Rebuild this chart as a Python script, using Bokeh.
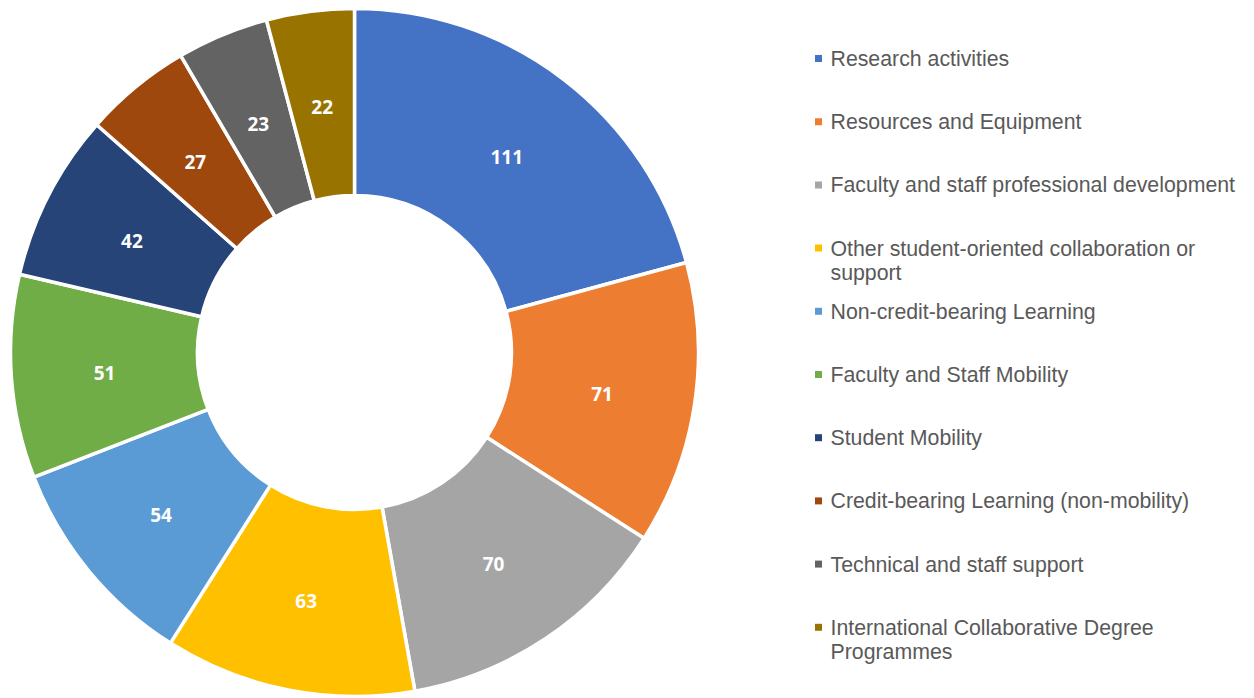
import math
from bokeh.plotting import figure
from bokeh.models import Range1d, ColumnDataSource
from bokeh.core.properties import value
from bokeh.embed import file_html
from bokeh.resources import INLINE

categories = [
    "Research activities",
    "Resources and Equipment",
    "Faculty and staff professional development",
    "Other student-oriented collaboration or\nsupport",
    "Non-credit-bearing Learning",
    "Faculty and Staff Mobility",
    "Student Mobility",
    "Credit-bearing Learning (non-mobility)",
    "Technical and staff support",
    "International Collaborative Degree\nProgrammes",
]
counts = [111, 71, 70, 63, 54, 51, 42, 27, 23, 22]
colors = ["#4472C4", "#ED7D31", "#A5A5A5", "#FFC000", "#5B9BD5",
          "#70AD47", "#264478", "#9E480E", "#636363", "#997300"]

W, H = 1254, 698
cx, cy = 354, H - 352
r_out, r_in = 344, 157

total = sum(counts)
starts, ends, lx, ly = [], [], [], []
acc = 0.0
for c in counts:
    a0 = math.pi / 2 - 2 * math.pi * acc / total
    a1 = math.pi / 2 - 2 * math.pi * (acc + c) / total
    starts.append(a0)
    ends.append(a1)
    mid = (a0 + a1) / 2
    rm = (r_in + r_out) / 2
    lx.append(cx + rm * math.cos(mid))
    ly.append(cy + rm * math.sin(mid) - 3)
    acc += c

src = ColumnDataSource(dict(start=starts, end=ends, color=colors,
                            lx=lx, ly=ly, lab=[str(c) for c in counts]))

p = figure(width=W, height=H, output_backend="svg", toolbar_location=None,
           x_range=Range1d(0, W), y_range=Range1d(0, H), min_border=0)
p.axis.visible = False
p.grid.visible = False
p.outline_line_color = None
p.background_fill_color = "white"
p.border_fill_color = "white"

p.annular_wedge(x=cx, y=cy, inner_radius=r_in, outer_radius=r_out,
                start_angle="start", end_angle="end", direction="clock",
                fill_color="color", line_color="white", line_width=3.5, source=src)
p.text(x="lx", y="ly", text="lab", source=src, text_color="white",
       text_font=value("Open Sans"), text_font_style="bold", text_font_size="19px",
       text_align="center", text_baseline="middle")

# legend
leg_y0 = 58
leg_dy = 63.2
mx = [818] * len(categories)
my = [H - (leg_y0 + i * leg_dy) for i in range(len(categories))]
tx = [830] * len(categories)
ty = [H - (leg_y0 + i * leg_dy) + 11.5 for i in range(len(categories))]
lsrc = ColumnDataSource(dict(mx=mx, my=my, tx=tx, ty=ty, t=categories, color=colors))
p.rect(x="mx", y="my", width=7, height=7, fill_color="color", line_color=None, source=lsrc)
p.text(x="tx", y="ty", text="t", source=lsrc, text_color="#595959",
       text_font=value("Liberation Sans"), text_font_size="21.3px",
       text_align="left", text_baseline="top", text_line_height=1.0)

open("out.html", "w").write(file_html(p, INLINE))
